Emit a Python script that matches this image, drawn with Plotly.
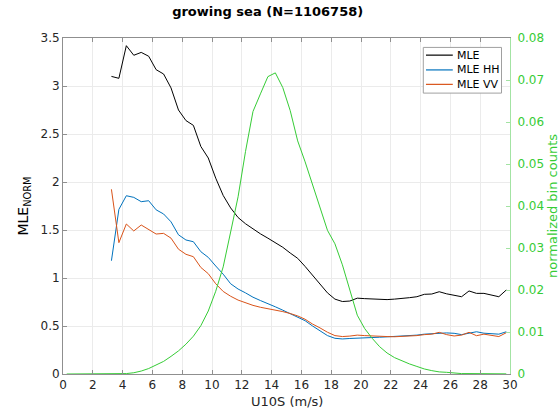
import plotly.graph_objects as go

# Wind speed bin centres (m/s)
u10_all = [0.25 + 0.5 * k for k in range(60)]
u10_mle = [3.25 + 0.5 * k for k in range(54)]

# Normalised MLE per wind-speed bin
mle = [3.10, 3.08, 3.42, 3.32, 3.35, 3.31, 3.17, 3.125, 2.98, 2.75,
       2.64, 2.59, 2.37, 2.25, 2.04, 1.86, 1.73, 1.63, 1.565, 1.51,
       1.46, 1.415, 1.37, 1.32, 1.26, 1.205, 1.12, 1.03, 0.93, 0.845,
       0.78, 0.755, 0.76, 0.79, 0.785, 0.78, 0.775, 0.775, 0.78, 0.785,
       0.795, 0.805, 0.83, 0.833, 0.857, 0.835, 0.82, 0.805, 0.865, 0.84,
       0.84, 0.825, 0.805, 0.875]
mle_hh = [1.18, 1.715, 1.857, 1.84, 1.795, 1.805, 1.71, 1.667, 1.585, 1.45,
          1.396, 1.378, 1.274, 1.215, 1.125, 1.04, 0.94, 0.885, 0.845, 0.80,
          0.765, 0.735, 0.70, 0.665, 0.63, 0.597, 0.555, 0.50, 0.45, 0.40,
          0.372, 0.365, 0.37, 0.375, 0.38, 0.38, 0.383, 0.387, 0.39, 0.395,
          0.40, 0.405, 0.415, 0.42, 0.43, 0.428, 0.424, 0.41, 0.425, 0.44,
          0.425, 0.42, 0.415, 0.44]
mle_vv = [1.924, 1.368, 1.5625, 1.49, 1.552, 1.507, 1.458, 1.465, 1.415, 1.30,
          1.247, 1.222, 1.11, 1.045, 0.94, 0.86, 0.81, 0.77, 0.74, 0.715,
          0.695, 0.682, 0.665, 0.65, 0.63, 0.605, 0.57, 0.52, 0.48, 0.435,
          0.40, 0.39, 0.395, 0.405, 0.40, 0.395, 0.39, 0.39, 0.388, 0.39,
          0.395, 0.40, 0.41, 0.415, 0.434, 0.41, 0.396, 0.405, 0.434, 0.399,
          0.415, 0.40, 0.39, 0.43]

# Normalised sample counts per bin
bin_counts = [0, 0, 0, 0, 0, 0, 0, 0, 0.0001, 0.0003,
              0.0007, 0.0013, 0.0021, 0.0030, 0.0042, 0.0055, 0.0071, 0.0090, 0.0115, 0.0150,
              0.0197, 0.0255, 0.0338, 0.0422, 0.0530, 0.0625, 0.0667, 0.0708, 0.0717, 0.0682,
              0.0627, 0.0555, 0.0505, 0.0452, 0.0400, 0.0342, 0.0310, 0.0260, 0.0200, 0.0140,
              0.0108, 0.0085, 0.0065, 0.0050, 0.0039, 0.0031, 0.0024, 0.0018, 0.0012, 0.0008,
              0.0005, 0.0004, 0.0002, 0.0001, 0.0001, 0.0001, 0.00005, 0.00005, 0.00003, 0.00003]

series_names = ["MLE", "MLE HH", "MLE VV"]
series_colors = ["#000000", "#0072bd", "#d95319"]

x_ticks = list(range(0, 31, 2))
y_ticks = [0, 0.5, 1, 1.5, 2, 2.5, 3, 3.5]
y2_ticks = [0, 0.01, 0.02, 0.03, 0.04, 0.05, 0.06, 0.07, 0.08]

FONT = "DejaVu Sans"
TXT = "#262626"
AXLINE = "#8f8f8f"
GREEN = "#36cc36"
GREEN_LINE = "#a3e3a3"

fig = go.Figure()
for name, col, vals in zip(series_names, series_colors, [mle, mle_hh, mle_vv]):
    fig.add_trace(go.Scatter(x=u10_mle, y=vals, mode="lines", name=name,
                             showlegend=False, line=dict(color=col, width=1)))
fig.add_trace(go.Scatter(x=u10_all, y=bin_counts, mode="lines", yaxis="y2",
                         showlegend=False, line=dict(color=GREEN, width=1)))

# Compact boxed legend in the upper right corner of the axes
box_x0, box_x1, box_y0, box_y1 = 0.806, 0.981, 0.836, 0.972
row_y = [0.949, 0.905, 0.862]
shapes = [dict(type="rect", xref="paper", yref="paper", x0=box_x0, x1=box_x1,
               y0=box_y0, y1=box_y1, line=dict(color="#a0a0a0", width=1),
               fillcolor="white", layer="above")]
annotations = []
for name, col, yy in zip(series_names, series_colors, row_y):
    shapes.append(dict(type="line", xref="paper", yref="paper", x0=0.812, x1=0.872,
                       y0=yy, y1=yy, line=dict(color=col, width=1.2), layer="above"))
    annotations.append(dict(text=name, xref="paper", yref="paper", x=0.877, y=yy,
                            xanchor="left", yanchor="middle", showarrow=False,
                            font=dict(family=FONT, size=11, color="#000000")))

# x-axis label just under the tick labels
annotations.append(dict(text="U10S (m/s)", xref="paper", yref="paper", x=0.5, y=-0.081,
                        xanchor="center", yanchor="middle", showarrow=False,
                        font=dict(family=FONT, size=13, color=TXT)))

fig.update_layout(
    width=560, height=414,
    margin=dict(l=63, r=50, t=38, b=40),
    paper_bgcolor="white", plot_bgcolor="white",
    font=dict(family=FONT, size=12, color=TXT),
    showlegend=False,
    shapes=shapes, annotations=annotations,
    title=dict(text="<b>growing sea (N=1106758)</b>", x=0.478, xref="container",
               xanchor="center", y=0.984, yref="container", yanchor="top",
               font=dict(family=FONT, size=13, color="#000000")),
    xaxis=dict(range=[0, 30], tickvals=x_ticks, ticks="inside", ticklen=4,
               tickcolor=AXLINE, showline=True, linecolor=AXLINE, linewidth=1,
               mirror="ticks", showgrid=True, gridcolor="#ebebeb", zeroline=False,
               automargin=False, ticklabelstandoff=0,
               tickfont=dict(size=12, color=TXT)),
    yaxis=dict(range=[0, 3.5], tickvals=y_ticks, ticks="inside", ticklen=4,
               tickcolor=AXLINE, showline=True, linecolor=AXLINE, linewidth=1,
               showgrid=True, gridcolor="#ebebeb", zeroline=False, automargin=False,
               title=dict(text="MLE<sub>NORM</sub>", standoff=8, font=dict(size=14, color="#000000")),
               tickfont=dict(size=12, color=TXT)),
    yaxis2=dict(range=[0, 0.08], tickvals=y2_ticks, overlaying="y", side="right",
                ticks="inside", ticklen=4, tickcolor=GREEN_LINE, showline=True,
                linecolor=GREEN_LINE, linewidth=1, showgrid=False, zeroline=False,
                automargin=False, tickformat=".2~f", ticklabelstandoff=4,
                title=dict(text="normalized bin counts", standoff=6,
                           font=dict(size=13, color=GREEN)),
                tickfont=dict(size=12, color=GREEN)),
)

fig.write_html("out.html")
